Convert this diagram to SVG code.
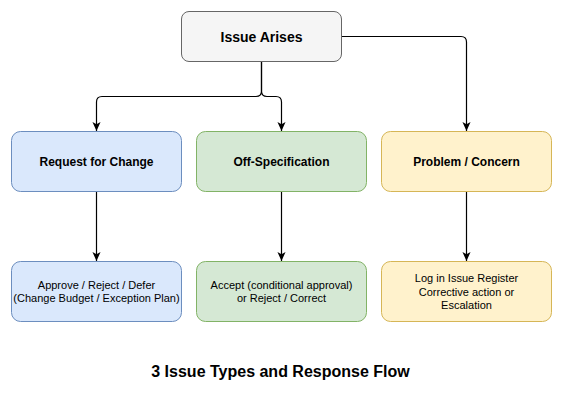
<svg xmlns="http://www.w3.org/2000/svg" width="564" height="404" viewBox="0 0 564 404">
<style>
.box{stroke-width:1}
.gray{fill:#f5f5f5;stroke:#666666}
.blue{fill:#dae8fc;stroke:#6c8ebf}
.green{fill:#d5e8d4;stroke:#82b366}
.yellow{fill:#fff2cc;stroke:#d6b656}
.t{font-family:"Liberation Sans",Arial,Helvetica,sans-serif;fill:#000;text-anchor:middle}
.b{font-weight:bold;font-size:12px}
.r{font-size:11px}
.edge{fill:none;stroke:#000;stroke-width:1.2}
</style>
<defs>
<marker id="arr" viewBox="0 0 10 10" refX="10" refY="5" markerWidth="9" markerHeight="9" markerUnits="userSpaceOnUse" orient="auto">
<path d="M0,0.5 L10,5 L0,9.5 L2.5,5 Z" fill="#000"/>
</marker>
</defs>
<rect width="564" height="404" fill="#ffffff"/>
<g id="connectors">
<path class="edge" d="M261.5,61.5 V91 Q261.5,96.5 256,96.5 H102 Q96.5,96.5 96.5,102 V131" marker-end="url(#arr)"/>
<path class="edge" d="M261.5,61.5 V91 Q261.5,96.5 267,96.5 H276 Q281.5,96.5 281.5,102 V131" marker-end="url(#arr)"/>
<path class="edge" d="M341.5,36.5 H461 Q466.5,36.5 466.5,42 V131" marker-end="url(#arr)"/>
<path class="edge" d="M96.5,191.5 V261" marker-end="url(#arr)"/>
<path class="edge" d="M281.5,191.5 V261" marker-end="url(#arr)"/>
<path class="edge" d="M466.5,191.5 V261" marker-end="url(#arr)"/>
</g>
<g id="issue-arises">
<rect class="box gray" x="181.5" y="11.5" width="160" height="50" rx="7.5"/>
<text class="t" x="261.5" y="41.5" font-size="14" font-weight="bold">Issue Arises</text>
</g>
<g id="request-for-change">
<rect class="box blue" x="11.5" y="131.5" width="170" height="60" rx="9"/>
<text class="t b" x="96.5" y="166">Request for Change</text>
</g>
<g id="off-specification">
<rect class="box green" x="196.5" y="131.5" width="170" height="60" rx="9"/>
<text class="t b" x="281.5" y="166">Off-Specification</text>
</g>
<g id="problem-concern">
<rect class="box yellow" x="381.5" y="131.5" width="170" height="60" rx="9"/>
<text class="t b" x="466.5" y="166">Problem / Concern</text>
</g>
<g id="rfc-response">
<rect class="box blue" x="11.5" y="261.5" width="170" height="60" rx="9"/>
<text class="t r" x="96.5" y="289">Approve / Reject / Defer</text>
<text class="t r" x="96.5" y="302.3">(Change Budget / Exception Plan)</text>
</g>
<g id="offspec-response">
<rect class="box green" x="196.5" y="261.5" width="170" height="60" rx="9"/>
<text class="t r" x="281.5" y="289">Accept (conditional approval)</text>
<text class="t r" x="281.5" y="302.3">or Reject / Correct</text>
</g>
<g id="problem-response">
<rect class="box yellow" x="381.5" y="261.5" width="170" height="60" rx="9"/>
<text class="t r" x="466.5" y="282.3">Log in Issue Register</text>
<text class="t r" x="466.5" y="295.6">Corrective action or</text>
<text class="t r" x="466.5" y="308.9">Escalation</text>
</g>
<text class="t" x="280.5" y="377" font-size="16" font-weight="bold">3 Issue Types and Response Flow</text>
</svg>
